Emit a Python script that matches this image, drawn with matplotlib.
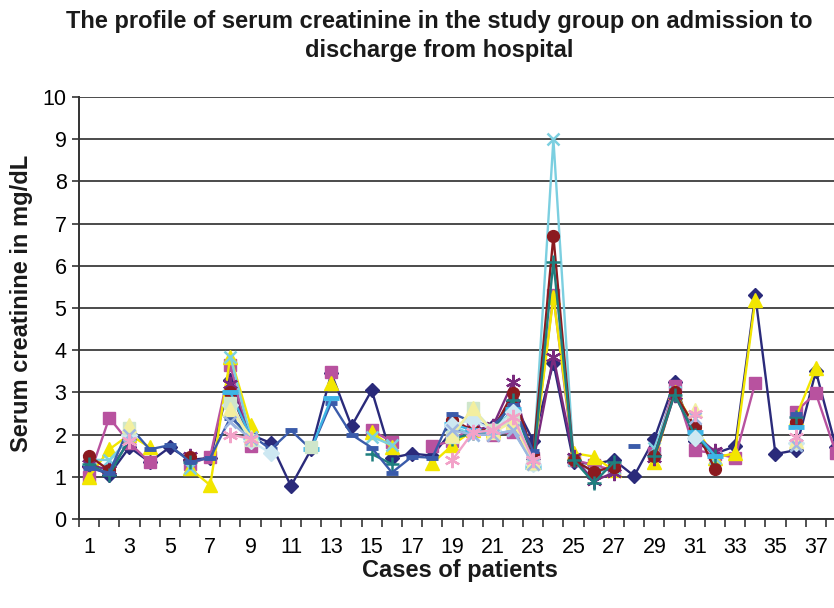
import numpy as np
import matplotlib
matplotlib.use("Agg")
import matplotlib.pyplot as plt

N = None
cases = list(range(1, 39))
xtick_labels = [str(c) for c in range(1, 38, 2)]

s1_navy = [1.25, 1.05, 1.7, 1.35, 1.7, 1.4, 1.45, 3.3, 2.0, 1.8,
           0.78, 1.65, 3.45, 2.2, 3.05, 1.45, 1.55, 1.5, 2.1, 2.05,
           2.2, 2.8, 1.85, 3.7, 1.35, 1.3, 1.4, 1.02, 1.9, 3.25,
           1.85, 1.55, 1.72, 5.3, 1.54, 1.63, 3.5, 1.7]
s2_magenta = [1.0, 2.4, 1.8, 1.35, N, 1.3, 1.48, 3.65, 1.72, N,
              N, N, 3.48, N, 2.1, 1.83, N, 1.73, 1.85, 2.2,
              2.0, 2.07, 1.45, 5.3, 1.4, 1.28, 1.15, N, 1.56, 3.15,
              1.63, 1.55, 1.45, 3.23, N, 2.54, 2.98, 1.56]
s3_yellow = [1.0, 1.65, 2.0, 1.7, N, 1.2, 0.8, 3.85, 2.22, N,
             N, N, 3.22, N, 2.05, 1.71, N, 1.32, 1.75, 2.1,
             2.1, 2.3, 1.4, 5.25, 1.56, 1.48, 1.15, N, 1.36, 3.02,
             2.2, 1.45, 1.56, 5.19, N, 2.4, 3.57, N]
s4_cyan = [1.4, 1.4, 1.9, N, N, 1.2, N, 3.85, 1.95, N,
           N, N, N, N, 1.95, 1.75, N, N, 2.2, 2.0,
           2.0, 2.1, 1.3, 9.0, 1.4, 1.1, 1.2, N, 1.68, 3.0,
           2.1, 1.45, N, N, N, 1.75, N, N]
s5_purple = [1.3, 1.15, 1.85, N, N, 1.5, N, 3.2, 1.9, N,
             N, N, N, N, N, N, N, N, N, 2.1,
             2.2, 3.25, 1.35, 3.85, 1.47, 0.9, 1.1, N, 1.44, 2.95,
             2.0, 1.6, N, N, N, N, N, N]
s6_maroon = [1.5, 1.15, N, N, N, 1.48, N, 3.0, 1.9, N,
             N, N, N, N, N, N, N, N, 2.35, 2.1,
             2.1, 2.99, 1.52, 6.7, 1.4, 1.12, 1.24, N, 1.5, 3.0,
             2.19, 1.18, N, N, N, 2.31, N, N]
s7_teal = [1.3, 1.05, 1.9, N, N, 1.35, N, 2.45, 1.9, N,
           N, N, N, N, 1.54, 1.3, N, N, 1.9, 2.03,
           2.05, 2.82, 1.3, 6.1, 1.4, 0.86, 1.35, N, 1.5, 2.95,
           2.0, 1.5, N, N, N, 2.42, N, N]
s8_blue = [1.2, 1.1, 2.2, 1.65, 1.75, 1.35, 1.45, 2.4, 2.0, 1.65,
           2.1, 1.65, 2.76, 2.0, 1.69, 1.1, 1.48, 1.45, 2.5, 2.3,
           2.2, 2.7, 1.6, N, N, N, N, 1.74, N, N,
           N, N, N, N, N, 2.5, N, N]
s9_sky = [N, N, N, N, N, N, N, 3.0, 1.95, N,
          N, 1.65, 2.87, N, N, N, N, N, 2.25, 2.1,
          2.05, 2.6, 1.23, N, N, N, N, N, N, N,
          2.07, 1.5, N, N, N, 2.19, N, N]
s10_turq = [N, N, 2.0, N, N, N, N, 2.7, 1.85, 1.56,
            N, N, N, N, N, N, N, N, 2.23, 2.35,
            2.1, 2.54, 1.3, N, N, N, N, N, N, N,
            1.91, N, N, N, N, 1.8, N, N]
s11_green = [N, N, 2.15, N, N, N, N, 2.75, 1.88, N,
             N, 1.7, N, N, N, N, N, N, 1.95, 2.62,
             2.1, 2.35, 1.3, N, N, N, N, N, N, N,
             N, N, N, N, N, N, N, N]
s12_lyellow = [N, N, 2.22, N, N, N, N, 2.6, 1.95, N,
               N, N, N, N, N, N, N, N, 2.0, 2.62,
               2.05, 2.3, 1.35, N, N, N, N, N, N, N,
               2.58, N, N, N, N, 1.85, N, N]
s13_paleblue = [N, N, 2.0, N, N, N, N, 2.3, 1.9, N,
                N, N, N, N, N, N, N, N, 2.1, 2.0,
                2.0, 2.1, 1.3, N, N, N, N, N, N, N,
                2.4, N, N, N, N, 1.75, N, N]
s14_pink = [N, N, 1.85, N, N, N, N, 2.0, 1.9, N,
            N, N, N, N, N, N, N, N, 1.4, 2.05,
            2.1, 2.42, 1.4, N, N, N, N, N, N, N,
            2.5, N, N, N, N, 1.95, N, N]

star = (6, 2, 0)
series = [
    (s1_navy, '#2a2a7a', 'D', 7.5, 1.0),
    (s2_magenta, '#b8529f', 's', 8.5, 1.0),
    (s3_yellow, '#f2e600', '^', 9.5, 1.0),
    (s4_cyan, '#7ccfe0', 'x', 9, 1.8),
    (s5_purple, '#7a2a7e', star, 11, 1.6),
    (s6_maroon, '#8b1a1f', 'o', 8.5, 1.0),
    (s7_teal, '#1e7f7f', '+', 10, 1.8),
    (s8_blue, '#3a5baa', '_', 8, 3.5),
    (s9_sky, '#3db5e6', '_', 11, 3.5),
    (s10_turq, '#cde8f2', 'D', 8, 1.0),
    (s11_green, '#cfe6cb', 's', 9, 1.0),
    (s12_lyellow, '#f3efa0', '^', 10, 1.0),
    (s13_paleblue, '#9eb6e2', 'x', 9, 1.8),
    (s14_pink, '#f2a2c8', star, 11, 1.6),
]

plt.rcParams['font.family'] = ['Liberation Sans', 'DejaVu Sans']

fig = plt.figure(figsize=(8.34, 6.08), dpi=100)
ax = fig.add_axes([79 / 834, 89 / 608, 1 - 79 / 834, (519 - 97) / 608])

x = np.array(cases, dtype=float)
for vals, col, mk, ms, mew in series:
    y = np.array([np.nan if v is None else v for v in vals], dtype=float)
    ax.plot(x, y, color=col, lw=1.7, marker=mk, markersize=ms,
            markeredgewidth=mew, markerfacecolor=col, markeredgecolor=col,
            clip_on=False, zorder=3)

ax.set_xlim(0.5, 37.9)
ax.set_ylim(0, 10)
ax.set_yticks(range(0, 11))
ax.yaxis.grid(True, color='#1a1a1a', lw=1.1)
ax.set_axisbelow(True)
ax.set_xticks(np.arange(0.5, 38.5, 1.0))
ax.set_xticklabels([])
ax.set_xticks(list(range(1, 38, 2)), minor=True)
ax.set_xticklabels(xtick_labels, minor=True)
ax.tick_params(axis='x', which='major', length=6, width=1.2, color='#333333')
ax.tick_params(axis='x', which='minor', length=0, pad=13, labelsize=15.5)
ax.tick_params(axis='y', length=5, width=1.2, color='#333333', labelsize=15.5, pad=4)
for s in ['top', 'right']:
    ax.spines[s].set_visible(False)
for s in ['left', 'bottom']:
    ax.spines[s].set_color('#333333')
    ax.spines[s].set_linewidth(1.4)

fig.text(0.527, 1 - 36 / 608,
         'The profile of serum creatinine in the study group on admission to\ndischarge from hospital',
         ha='center', va='center', fontsize=17, fontweight='bold', color='#1a1a1a',
         linespacing=1.3)
fig.text(0.026, (608 - 303) / 608, 'Serum creatinine in mg/dL', rotation=90,
         ha='center', va='center', fontsize=17, fontweight='bold', color='#1a1a1a')
fig.text(460 / 834, (608 - 570) / 608, 'Cases of patients',
         ha='center', va='center', fontsize=17, fontweight='bold', color='#1a1a1a')

fig.savefig('out.png', dpi=100)
